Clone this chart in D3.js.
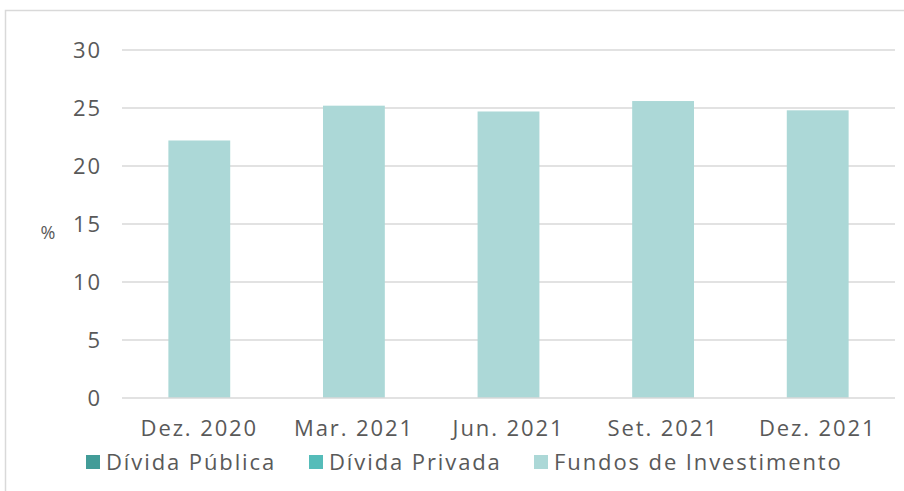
<!DOCTYPE html>
<html lang="pt">
<head>
<meta charset="UTF-8">
<script src="https://d3js.org/d3.v7.min.js"></script>
<style>
  body { margin: 0; background: #fff; }
  svg text { font-family: "Open Sans", sans-serif; fill: #595959; }
</style>
</head>
<body>
<div id="chart"></div>
<script>
  const categories = ["Dez. 2020", "Mar. 2021", "Jun. 2021", "Set. 2021", "Dez. 2021"];
  const series_names = ["Dívida Pública", "Dívida Privada", "Fundos de Investimento"];
  const divida_publica = [0, 0, 0, 0, 0];
  const divida_privada = [0, 0, 0, 0, 0];
  const fundos = [22.2, 25.2, 24.7, 25.6, 24.8];
  const y_ticks = [0, 5, 10, 15, 20, 25, 30];
  const colors = ["#429c98", "#55bcb9", "#acd8d7"];

  const svg_width = 904, svg_height = 491;
  const plot_left = 122, plot_right = 895, plot_top = 50, plot_bottom = 398;
  const font_size = 22, spacing = "1.9px";

  const svg = d3.select("#chart").append("svg")
    .attr("width", svg_width)
    .attr("height", svg_height);

  // chart frame
  svg.append("rect")
    .attr("x", 5.5).attr("y", 10.5)
    .attr("width", 920).attr("height", 500)
    .attr("fill", "none")
    .attr("stroke", "#d9d9d9")
    .attr("stroke-width", 1.5);

  const x = d3.scaleBand().domain(categories).range([plot_left, plot_right]).paddingInner(0.6).paddingOuter(0.3);
  const y = d3.scaleLinear().domain([0, 30]).range([plot_bottom, plot_top]);

  const table = categories.map((c, i) => ({
    cat: c,
    [series_names[0]]: divida_publica[i],
    [series_names[1]]: divida_privada[i],
    [series_names[2]]: fundos[i]
  }));
  const stacked = d3.stack().keys(series_names)(table);

  // gridlines
  svg.append("g")
    .selectAll("line")
    .data(y_ticks.filter(d => d > 0))
    .enter()
    .append("line")
    .attr("x1", plot_left).attr("x2", plot_right)
    .attr("y1", d => y(d)).attr("y2", d => y(d))
    .attr("stroke", "#d9d9d9")
    .attr("stroke-width", 1.5);

  svg.selectAll("g.layer")
    .data(stacked)
    .enter()
    .append("g")
    .attr("class", "layer")
    .attr("fill", (d, i) => colors[i])
    .selectAll("rect")
    .data(d => d)
    .enter()
    .append("rect")
    .attr("x", d => x(d.data.cat))
    .attr("width", x.bandwidth())
    .attr("y", d => y(d[1]))
    .attr("height", d => y(d[0]) - y(d[1]));

  // baseline
  svg.append("line")
    .attr("x1", plot_left).attr("x2", plot_right)
    .attr("y1", y(0)).attr("y2", y(0))
    .attr("stroke", "#d9d9d9")
    .attr("stroke-width", 1.5);

  // y axis labels
  const yAxis = svg.append("g")
    .attr("transform", "translate(" + (plot_left - 20) + ",0)")
    .call(d3.axisLeft(y).tickValues(y_ticks).tickSize(0).tickPadding(0));
  yAxis.select(".domain").remove();
  yAxis.selectAll("text")
    .attr("font-size", font_size)
    .style("font-family", "Open Sans")
    .style("letter-spacing", spacing)
    .attr("fill", "#595959");

  svg.append("text")
    .attr("x", 48).attr("y", 239)
    .attr("text-anchor", "middle")
    .attr("font-size", 18)
    .text("%");

  // x axis labels
  const xAxis = svg.append("g")
    .attr("transform", "translate(0," + plot_bottom + ")")
    .call(d3.axisBottom(x).tickSize(0).tickPadding(22));
  xAxis.select(".domain").remove();
  xAxis.selectAll("text")
    .attr("font-size", font_size)
    .style("font-family", "Open Sans")
    .style("letter-spacing", spacing)
    .attr("fill", "#595959");

  // legend
  const legend_x = [86, 309, 534];
  const legend = svg.append("g");
  series_names.forEach((name, i) => {
    legend.append("rect")
      .attr("x", legend_x[i]).attr("y", 455)
      .attr("width", 14).attr("height", 14)
      .attr("fill", colors[i]);
    legend.append("text")
      .attr("x", legend_x[i] + 20).attr("y", 470)
      .attr("font-size", font_size)
      .style("letter-spacing", spacing)
      .text(name);
  });
</script>
</body>
</html>
